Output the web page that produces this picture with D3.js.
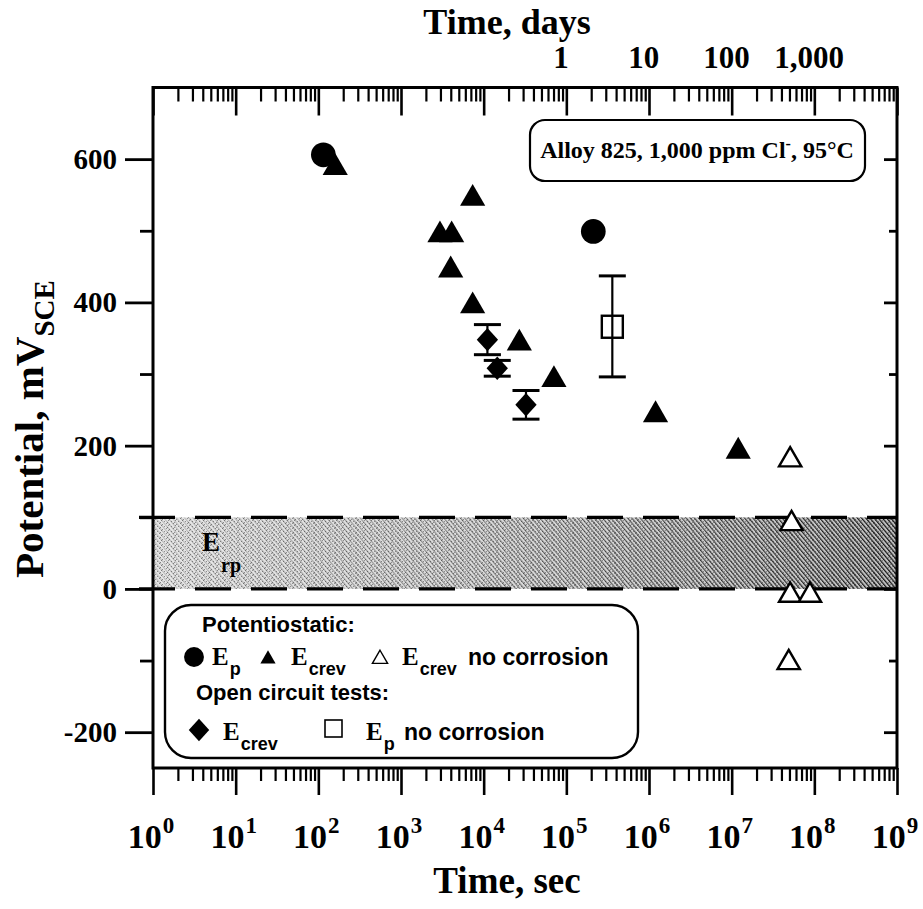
<!DOCTYPE html>
<html><head><meta charset="utf-8">
<script src="https://cdn.jsdelivr.net/npm/d3@7"></script>
<style>body{margin:0;background:#fff}svg{display:block}</style>
</head><body><script>
// Potentiostatic tests
const epTime = [115, 2.12e5];
const epValue = [606, 499];
const ecrevTime = [160, 2960, 4100, 3990, 7360, 7360, 27000, 70800, 1.2e6, 1.2e7];
const ecrevValue = [588, 494, 494, 445, 545, 395, 343, 292, 243, 192];
const ecrevNoCorrTime = [5.1e7, 5.3e7, 5.1e7, 8.85e7, 4.9e7];
const ecrevNoCorrValue = [180, 91, -9, -9, -103];
// Open circuit tests (with scatter ranges)
const ocEcrevTime = [11100, 14600, 32500];
const ocEcrevValue = [348, 308, 257];
const ocEcrevLow = [327, 297, 237];
const ocEcrevHigh = [369, 319, 277];
const ocEpTime = [3.6e5];
const ocEpValue = [366];
const ocEpLow = [296];
const ocEpHigh = [437];
// Repassivation potential band
const erpBand = [0, 100];
// Axis ticks
const xExponents = [0, 1, 2, 3, 4, 5, 6, 7, 8, 9];
const yTicks = [-200, 0, 200, 400, 600];
const yMinorTicks = [-100, 100, 300, 500];
const dayTicks = [1, 10, 100, 1000];
const dayLabels = ["1", "10", "100", "1,000"];
const secondsPerDay = 86400;

const W = 923, H = 909;
const SERIF = "'Liberation Serif','Times New Roman',serif";
const SANS = "'Liberation Sans',Arial,sans-serif";
const L = 153, R = 897, T = 87.5, B = 768;

const x = d3.scaleLog().domain([1, 1e9]).range([L, R]);
const y = d3.scaleLinear().domain([-250, 700]).range([B, T]);

const svg = d3.select("body").append("svg").attr("width", W).attr("height", H)
  .attr("viewBox", `0 0 ${W} ${H}`);

const defs = svg.append("defs");
// Shaded band: light stipple on the left, dense hatching on the right
const bg = defs.append("linearGradient").attr("id", "bandBg");
bg.append("stop").attr("offset", "0%").attr("stop-color", "#e8e8e8");
bg.append("stop").attr("offset", "55%").attr("stop-color", "#d8d8d8");
bg.append("stop").attr("offset", "100%").attr("stop-color", "#c0c0c0");
const stip = defs.append("pattern").attr("id", "stipple").attr("patternUnits", "userSpaceOnUse")
  .attr("width", 7).attr("height", 5);
[[0, 0], [3, 1], [5, 3], [1, 4], [6, 2]].forEach(p => stip.append("rect")
  .attr("x", p[0]).attr("y", p[1]).attr("width", 1).attr("height", 1).attr("fill", "#555"));
const hatch = defs.append("pattern").attr("id", "hatch").attr("patternUnits", "userSpaceOnUse")
  .attr("width", 3.2).attr("height", 3.2).attr("patternTransform", "rotate(-40)");
hatch.append("rect").attr("width", 1.2).attr("height", 3.2).attr("fill", "#000");
const mg = defs.append("linearGradient").attr("id", "hatchFade");
mg.append("stop").attr("offset", "0%").attr("stop-color", "#fff").attr("stop-opacity", 0.18);
mg.append("stop").attr("offset", "45%").attr("stop-color", "#fff").attr("stop-opacity", 0.4);
mg.append("stop").attr("offset", "100%").attr("stop-color", "#fff").attr("stop-opacity", 0.88);
const mask = defs.append("mask").attr("id", "bandMask");
mask.append("rect").attr("x", L).attr("y", y(erpBand[1])).attr("width", R - L)
  .attr("height", y(erpBand[0]) - y(erpBand[1])).attr("fill", "url(#hatchFade)");

const band = svg.append("g");
const bandRect = () => band.append("rect").attr("x", L).attr("y", y(erpBand[1]))
  .attr("width", R - L).attr("height", y(erpBand[0]) - y(erpBand[1]));
bandRect().attr("fill", "url(#bandBg)");
bandRect().attr("fill", "url(#stipple)").attr("opacity", 0.6);
bandRect().attr("fill", "url(#hatch)").attr("mask", "url(#bandMask)");
band.selectAll("line.edge").data(erpBand).join("line").attr("class", "edge")
  .attr("x1", L - 14).attr("x2", R).attr("y1", d => y(d)).attr("y2", d => y(d))
  .attr("stroke", "#000").attr("stroke-width", 3.2).attr("stroke-dasharray", "36,20");

// E_rp label in band
const erp = svg.append("text").attr("x", 202).attr("y", 551)
  .attr("font-family", SERIF).attr("font-weight", "bold").attr("font-size", 27).text("E");
erp.append("tspan").attr("font-size", 20).attr("dy", 21).attr("dx", 1).text("rp");

// Axes
const majors = xExponents.map(e => Math.pow(10, e));
const minors = [];
xExponents.slice(0, -1).forEach(e => { for (let k = 2; k <= 9; k++) minors.push(k * Math.pow(10, e)); });

function styleAxis(g, w) {
  g.select(".domain").remove();
  g.selectAll("line").attr("stroke", "#000").attr("stroke-width", w);
  g.selectAll("text").remove();
}
svg.append("g").attr("transform", `translate(0,${B})`)
  .call(d3.axisBottom(x).tickValues(majors).tickSize(27).tickSizeOuter(0)).call(g => styleAxis(g, 2.6));
svg.append("g").attr("transform", `translate(0,${B})`)
  .call(d3.axisBottom(x).tickValues(minors).tickSize(13).tickSizeOuter(0)).call(g => styleAxis(g, 2.2));
svg.append("g").attr("transform", `translate(0,${T})`)
  .call(d3.axisTop(x).tickValues(majors).tickSize(-28).tickSizeOuter(0)).call(g => styleAxis(g, 2.6));
svg.append("g").attr("transform", `translate(0,${T})`)
  .call(d3.axisTop(x).tickValues(minors).tickSize(-14).tickSizeOuter(0)).call(g => styleAxis(g, 2.2));
svg.append("g").attr("transform", `translate(${L},0)`)
  .call(d3.axisLeft(y).tickValues(yTicks).tickSize(28).tickSizeOuter(0)).call(g => styleAxis(g, 2.8));
svg.append("g").attr("transform", `translate(${L},0)`)
  .call(d3.axisLeft(y).tickValues(yMinorTicks).tickSize(13).tickSizeOuter(0)).call(g => styleAxis(g, 2.8));
svg.append("g").attr("transform", `translate(${R},0)`)
  .call(d3.axisRight(y).tickValues(yTicks).tickSize(-13).tickSizeOuter(0)).call(g => styleAxis(g, 2.8));
svg.append("g").attr("transform", `translate(${R},0)`)
  .call(d3.axisRight(y).tickValues(yMinorTicks).tickSize(-8).tickSizeOuter(0)).call(g => styleAxis(g, 2.8));

svg.append("rect").attr("x", L).attr("y", T).attr("width", R - L).attr("height", B - T)
  .attr("fill", "none").attr("stroke", "#000").attr("stroke-width", 3);

// Tick labels
svg.append("g").selectAll("text").data(yTicks).join("text")
  .attr("x", 117).attr("y", d => y(d) + 10).attr("text-anchor", "end")
  .attr("font-family", SERIF).attr("font-weight", "bold").attr("font-size", 29)
  .text(d => d);

const xl = svg.append("g").selectAll("text").data(xExponents).join("text")
  .attr("x", e => x(Math.pow(10, e)) - 2).attr("y", 848).attr("text-anchor", "middle")
  .attr("font-family", SERIF).attr("font-weight", "bold").attr("font-size", 34);
xl.append("tspan").text("10");
xl.append("tspan").attr("font-size", 23).attr("dy", -15).attr("dx", 1).text(e => e);

svg.append("g").selectAll("text").data(dayTicks).join("text")
  .attr("x", d => x(d * secondsPerDay)).attr("y", 68).attr("text-anchor", "middle")
  .attr("font-family", SERIF).attr("font-weight", "bold").attr("font-size", 31)
  .text((d, i) => dayLabels[i]);

// Axis titles
svg.append("text").attr("x", 507).attr("y", 34).attr("text-anchor", "middle")
  .attr("font-family", SERIF).attr("font-weight", "bold").attr("font-size", 36).text("Time, days");
svg.append("text").attr("x", 507).attr("y", 893).attr("text-anchor", "middle")
  .attr("font-family", SERIF).attr("font-weight", "bold").attr("font-size", 37).text("Time, sec");
const yt = svg.append("text").attr("transform", "translate(43,578) rotate(-90)")
  .attr("font-family", SERIF).attr("font-weight", "bold").attr("font-size", 41).text("Potential, mV");
yt.append("tspan").attr("font-size", 29).attr("dy", 11).text("SCE");

// Symbols
const diamond = {
  draw(ctx, size) {
    const a = Math.sqrt(size / 2.2), b = 1.1 * a;
    ctx.moveTo(0, -b); ctx.lineTo(a, 0); ctx.lineTo(0, b); ctx.lineTo(-a, 0); ctx.closePath();
  }
};
const sym = (type, size) => d3.symbol().type(type).size(size)();

const plot = svg.append("g");

// Error ranges for open-circuit tests
function errorBars(times, lo, hi) {
  const g = plot.append("g").attr("stroke", "#000");
  times.forEach((t, i) => {
    g.append("line").attr("x1", x(t)).attr("x2", x(t)).attr("y1", y(lo[i])).attr("y2", y(hi[i]))
      .attr("stroke-width", 2.2);
    [lo[i], hi[i]].forEach(v => g.append("line").attr("x1", x(t) - 13.5).attr("x2", x(t) + 13.5)
      .attr("y1", y(v)).attr("y2", y(v)).attr("stroke-width", 3));
  });
}
errorBars(ocEcrevTime, ocEcrevLow, ocEcrevHigh);
errorBars(ocEpTime, ocEpLow, ocEpHigh);

plot.selectAll("path.ep").data(epTime).join("path").attr("class", "ep")
  .attr("d", sym(d3.symbolCircle, 480))
  .attr("transform", (t, i) => `translate(${x(t)},${y(epValue[i])})`).attr("fill", "#000");
plot.selectAll("path.ecrev").data(ecrevTime).join("path").attr("class", "ecrev")
  .attr("d", sym(d3.symbolTriangle, 275))
  .attr("transform", (t, i) => `translate(${x(t)},${y(ecrevValue[i])})`).attr("fill", "#000");
plot.selectAll("path.nocorr").data(ecrevNoCorrTime).join("path").attr("class", "nocorr")
  .attr("d", sym(d3.symbolTriangle, 215))
  .attr("transform", (t, i) => `translate(${x(t)},${y(ecrevNoCorrValue[i])})`)
  .attr("fill", "#fff").attr("stroke", "#000").attr("stroke-width", 2.4);
plot.selectAll("path.oc").data(ocEcrevTime).join("path").attr("class", "oc")
  .attr("d", sym(diamond, 250))
  .attr("transform", (t, i) => `translate(${x(t)},${y(ocEcrevValue[i])})`).attr("fill", "#000");
plot.selectAll("rect.ocep").data(ocEpTime).join("rect").attr("class", "ocep")
  .attr("x", t => x(t) - 10.5).attr("y", (t, i) => y(ocEpValue[i]) - 11)
  .attr("width", 21).attr("height", 22)
  .attr("fill", "none").attr("stroke", "#000").attr("stroke-width", 2.4);

// Test condition note
const note = svg.append("g");
note.append("rect").attr("x", 530).attr("y", 120).attr("width", 335).attr("height", 61)
  .attr("rx", 15).attr("fill", "#fff").attr("stroke", "#000").attr("stroke-width", 2.2);
const nt = note.append("text").attr("x", 697).attr("y", 158).attr("text-anchor", "middle")
  .attr("font-family", SERIF).attr("font-weight", "bold").attr("font-size", 24);
nt.append("tspan").text("Alloy 825, 1,000 ppm Cl");
nt.append("tspan").attr("font-size", 16).attr("dy", -9).text("-");
nt.append("tspan").attr("dy", 9).text(", 95°C");

// Legend
const lg = svg.append("g");
lg.append("rect").attr("x", 165).attr("y", 605).attr("width", 473).attr("height", 153)
  .attr("rx", 26).attr("fill", "#fff").attr("stroke", "#000").attr("stroke-width", 2.4);
function ltext(xp, yp, s, font, size) {
  return lg.append("text").attr("x", xp).attr("y", yp).attr("font-family", font)
    .attr("font-weight", "bold").attr("font-size", size).text(s);
}
function lsub(xp, yp, main, sub) {
  const t = lg.append("text").attr("x", xp).attr("y", yp).attr("font-weight", "bold");
  t.append("tspan").attr("font-family", SERIF).attr("font-size", 25).text(main);
  t.append("tspan").attr("font-family", SANS).attr("font-size", 18).attr("dy", 10).attr("dx", 1).text(sub);
  return t;
}
ltext(202, 632, "Potentiostatic:", SANS, 22);
lg.append("path").attr("d", sym(d3.symbolCircle, 310)).attr("transform", "translate(194,657)").attr("fill", "#000");
lsub(212, 665, "E", "p");
lg.append("path").attr("d", sym(d3.symbolTriangle, 100)).attr("transform", "translate(268,659)").attr("fill", "#000");
lsub(291, 665, "E", "crev");
lg.append("path").attr("d", sym(d3.symbolTriangle, 100)).attr("transform", "translate(380,659)")
  .attr("fill", "#fff").attr("stroke", "#000").attr("stroke-width", 1.4);
lsub(402, 665, "E", "crev");
ltext(468, 665, "no corrosion", SANS, 23);
ltext(196, 700, "Open circuit tests:", SANS, 22);
lg.append("path").attr("d", sym(diamond, 230)).attr("transform", "translate(199,730)").attr("fill", "#000");
lsub(223, 740, "E", "crev");
lg.append("rect").attr("x", 325).attr("y", 720).attr("width", 17).attr("height", 17)
  .attr("fill", "none").attr("stroke", "#000").attr("stroke-width", 1.6);
lsub(366, 740, "E", "p");
ltext(404, 740, "no corrosion", SANS, 23);
</script></body></html>
